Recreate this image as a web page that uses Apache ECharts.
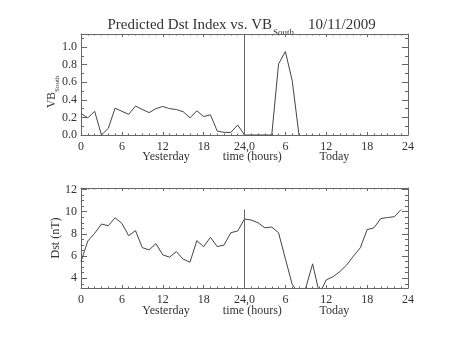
<!DOCTYPE html>
<html>
<head>
<meta charset="utf-8">
<script src="https://cdn.jsdelivr.net/npm/echarts@6/dist/echarts.min.js"></script>
<style>html,body{margin:0;padding:0;background:#fff;}#c{width:453px;height:340px;}</style>
</head>
<body>
<div id="c"></div>
<script>
// ---- data ----
const xTickLabels = ['0','6','12','18','24,0','6','12','18','24'];
const vbHours = [0,1,2,3,4,5,6,7,8,9,10,11,12,13,14,15,16,17,18,19,20,21,22,23,24,25,26,27,28,29,30,31,32];
const vbValues = [0.245,0.195,0.27,0.0,0.075,0.305,0.27,0.235,0.33,0.29,0.255,0.30,0.325,0.30,0.29,0.265,0.195,0.275,0.21,0.23,0.045,0.03,0.03,0.114,0.0,0.0,0.0,0.0,0.0,0.81,0.95,0.62,0.0];
const dstHours = [0,1,2,3,4,5,6,7,8,9,10,11,12,13,14,15,16,17,18,19,20,21,22,23,24,25,26,27,28,29,30,31,32,33,34,35,36,37,38,39,40,41,42,43,44,45,46,47];
const dstValues = [5.5,7.36,8.05,8.89,8.74,9.45,8.95,7.84,8.29,6.76,6.56,7.12,6.11,5.9,6.4,5.72,5.45,7.39,6.85,7.69,6.85,7.0,8.11,8.26,9.34,9.25,9.0,8.55,8.62,8.1,5.75,3.45,2.6,3.15,5.3,2.6,3.85,4.14,4.6,5.2,6.0,6.75,8.38,8.55,9.38,9.48,9.55,10.2];
const vbTickValues = [0,0.2,0.4,0.6,0.8,1.0];
const vbMinorValues = [0.1,0.3,0.5,0.7,0.9,1.1];
const dstTickValues = [4,6,8,10,12];
const dstMinorValues = [3.5,4.5,5,5.5,6.5,7,7.5,8.5,9,9.5,10.5,11,11.5];
const vbRange = [0, 1.15];
const dstRange = [3.12, 12.14];
const dividerHour = 24;
const dstDividerTop = 10.2;
const titleMain = 'Predicted Dst Index vs. VB';
const titleSub = 'South';
const titleDate = '10/11/2009';
const xWords = ['Yesterday', 'time (hours)', 'Today'];

// ---- styles ----
const AX = '#666';
const TXT = '#333';
const LINE = '#444';
const FF = '"Liberation Serif", "Times New Roman", serif';

function xAxes(g) {
  const base = {
    type: 'value', gridIndex: g, min: 0, max: 48, interval: 6,
    axisLine: {show: true, onZero: false, lineStyle: {color: AX, width: 1}},
    axisTick: {show: true, inside: true, length: 3, lineStyle: {color: AX, width: 1}},
    minorTick: {show: true, splitNumber: 6, length: 1.5, lineStyle: {color: AX, width: 1}},
    splitLine: {show: false}, minorSplitLine: {show: false}
  };
  return [
    Object.assign({}, base, {position: 'bottom',
      axisLabel: {show: true, margin: 6, fontFamily: FF, fontSize: 12, color: TXT,
        formatter: v => xTickLabels[Math.round(v / 6)]}}),
    Object.assign({}, base, {position: 'top', axisLabel: {show: false}})
  ];
}
function yAxes(g, range, major, minor, fmt) {
  const res = [];
  ['left', 'right'].forEach(pos => {
    res.push({
      type: 'value', gridIndex: g, position: pos, min: range[0], max: range[1],
      axisLine: {show: true, onZero: false, lineStyle: {color: AX, width: 1}},
      axisTick: {show: true, inside: true, length: 6, customValues: major, lineStyle: {color: AX, width: 1}},
      axisLabel: {show: pos === 'left', customValues: major, margin: 4, fontFamily: FF, fontSize: 12, color: TXT, formatter: fmt},
      splitLine: {show: false}
    });
    res.push({
      type: 'value', gridIndex: g, position: pos, min: range[0], max: range[1],
      axisLine: {show: false, onZero: false},
      axisTick: {show: true, inside: true, length: 3, customValues: minor, lineStyle: {color: AX, width: 1}},
      axisLabel: {show: false},
      splitLine: {show: false}
    });
  });
  return res;
}

function words(y) {
  const xs = [166, 252.3, 334.3];
  return xWords.map((w, i) => ({
    type: 'text', x: xs[i], y: y, silent: true,
    style: {text: w, font: '12px ' + FF, fill: TXT, align: 'center', verticalAlign: 'middle'}
  }));
}

const chart = echarts.init(document.getElementById('c'), null, {renderer: 'canvas'});
chart.setOption({
  animation: false,
  backgroundColor: '#fff',
  grid: [
    {left: 81, right: 45, top: 34, height: 101},
    {left: 81, right: 45, top: 188, height: 100}
  ],
  xAxis: xAxes(0).concat(xAxes(1)),
  yAxis: yAxes(0, vbRange, vbTickValues, vbMinorValues, v => v.toFixed(1))
    .concat(yAxes(1, dstRange, dstTickValues, dstMinorValues, v => String(v))),
  series: [
    {
      type: 'line', xAxisIndex: 0, yAxisIndex: 0, showSymbol: false, symbol: 'none',
      lineStyle: {color: LINE, width: 1}, clip: true,
      data: vbHours.map((h, i) => [h, vbValues[i]]),
      markLine: {silent: true, symbol: ['none', 'none'], label: {show: false}, animation: false,
        lineStyle: {color: AX, type: 'solid', width: 1},
        data: [[{coord: [dividerHour, vbRange[0]]}, {coord: [dividerHour, vbRange[1]]}]]}
    },
    {
      type: 'line', xAxisIndex: 2, yAxisIndex: 4, showSymbol: false, symbol: 'none',
      lineStyle: {color: LINE, width: 1}, clip: true,
      data: dstHours.map((h, i) => [h, dstValues[i]]),
      markLine: {silent: true, symbol: ['none', 'none'], label: {show: false}, animation: false,
        lineStyle: {color: AX, type: 'solid', width: 1},
        data: [[{coord: [dividerHour, dstRange[0]]}, {coord: [dividerHour, dstDividerTop]}]]}
    }
  ],
  graphic: [
    {type: 'text', x: 272, y: 24.7, silent: true,
      style: {text: titleMain, font: '15px ' + FF, fill: TXT, align: 'right', verticalAlign: 'middle'}},
    {type: 'text', x: 273, y: 32.7, silent: true,
      style: {text: titleSub, font: '9px ' + FF, fill: TXT, align: 'left', verticalAlign: 'middle'}},
    {type: 'text', x: 308, y: 24.7, silent: true,
      style: {text: titleDate, font: '15px ' + FF, fill: TXT, align: 'left', verticalAlign: 'middle'}},
    {type: 'group', x: 52, y: 108, rotation: Math.PI / 2, silent: true, children: [
      {type: 'text', x: 0, y: 0, style: {text: 'VB', font: '11.5px ' + FF, fill: TXT, align: 'left', verticalAlign: 'middle'}},
      {type: 'text', x: 16, y: 5.5, style: {text: 'South', font: '7px ' + FF, fill: TXT, align: 'left', verticalAlign: 'middle'}}
    ]},
    {type: 'text', x: 56, y: 238, rotation: Math.PI / 2, silent: true,
      style: {text: 'Dst (nT)', font: '12px ' + FF, fill: TXT, align: 'center', verticalAlign: 'middle'}}
  ].concat(words(157.2)).concat(words(310.4))
});
</script>
</body>
</html>
